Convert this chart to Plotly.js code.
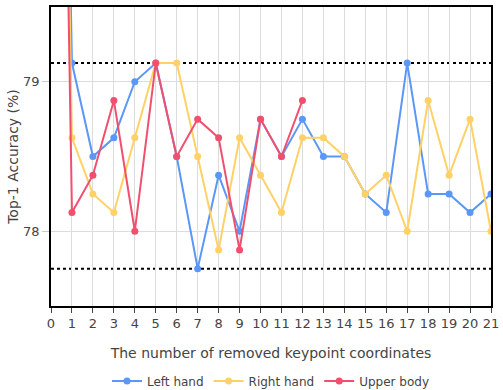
<!DOCTYPE html>
<html>
<head>
<meta charset="utf-8">
<script src="https://cdn.plot.ly/plotly-3.0.1.min.js"></script>
<style>
  html, body { margin: 0; padding: 0; background: #fff; }
  #chart { width: 503px; height: 390px; }
</style>
</head>
<body>
<div id="chart"></div>
<script>
// removed keypoint coordinates (x)
const removed = [0, 1, 2, 3, 4, 5, 6, 7, 8, 9, 10, 11, 12, 13, 14, 15, 16, 17, 18, 19, 20, 21];
const removedBody = [0, 1, 2, 3, 4, 5, 6, 7, 8, 9, 10, 11, 12];

// top-1 accuracy (%)
const leftHand = [86.5, 79.125, 78.5, 78.625, 79.0, 79.125, 78.5, 77.75, 78.375, 78.0, 78.75,
  78.5, 78.75, 78.5, 78.5, 78.25, 78.125, 79.125, 78.25, 78.25, 78.125, 78.25];
const rightHand = [86.5, 78.625, 78.25, 78.125, 78.625, 79.125, 79.125, 78.5, 77.875, 78.625, 78.375,
  78.125, 78.625, 78.625, 78.5, 78.25, 78.375, 78.0, 78.875, 78.375, 78.75, 78.0];
const upperBody = [86.5, 78.125, 78.375, 78.875, 78.0, 79.125, 78.5, 78.75, 78.625, 77.875, 78.75,
  78.5, 78.875];

// dotted reference levels (max / min)
const refLevels = [79.125, 77.75];

const tickVals = removed;

function makeTrace(name, x, y, color) {
  return {
    type: 'scatter',
    mode: 'lines+markers',
    name: name,
    x: x,
    y: y,
    line: { color: color, width: 2 },
    marker: { color: color, size: 7 }
  }
}

const data = [
  makeTrace('Left hand', removed, leftHand, '#5b97f7'),
  makeTrace('Right hand', removed, rightHand, '#ffd166'),
  makeTrace('Upper body', removedBody, upperBody, '#f0506e')
];

const shapes = refLevels.map(v => ({
  type: 'line',
  xref: 'paper', x0: 0, x1: 1,
  yref: 'y', y0: v, y1: v,
  line: { color: '#000', width: 2, dash: 'dot' },
  layer: 'below'
}));

const font = { family: 'Verdana, "DejaVu Sans", sans-serif', color: '#444' };

const layout = {
  width: 503,
  height: 390,
  margin: { l: 51, r: 12, t: 7, b: 84 },
  paper_bgcolor: '#fff',
  plot_bgcolor: '#fff',
  font: Object.assign({ size: 12 }, font),
  showlegend: true,
  legend: {
    orientation: 'h',
    x: 0.5, xanchor: 'center', xref: 'paper',
    y: 0.023, yanchor: 'middle', yref: 'container',
    font: { size: 12 }
  },
  xaxis: {
    range: [0, 21],
    automargin: false,
    tickvals: tickVals,
    ticktext: tickVals.map(String),
    ticks: 'outside',
    ticklen: 5,
    tickcolor: '#444',
    showgrid: true,
    gridcolor: '#dcdcdc',
    zeroline: false,
    showline: true,
    linecolor: '#000',
    linewidth: 1.5,
    mirror: true,
    tickfont: { size: 13 },
    title: { text: 'The number of removed keypoint coordinates', font: { size: 14 }, standoff: 18 }
  },
  yaxis: {
    range: [77.5, 79.5],
    automargin: false,
    dtick: 1,
    ticks: 'outside',
    ticklen: 7,
    tickcolor: '#ccc',
    showgrid: true,
    gridcolor: '#dcdcdc',
    zeroline: false,
    showline: true,
    linecolor: '#000',
    linewidth: 1.5,
    mirror: true,
    tickfont: { size: 13 },
    title: { text: 'Top-1 Accuracy (%)', font: { size: 14 }, standoff: 1 }
  },
  shapes: shapes
};

Plotly.newPlot('chart', data, layout, { displayModeBar: false });
</script>
</body>
</html>
